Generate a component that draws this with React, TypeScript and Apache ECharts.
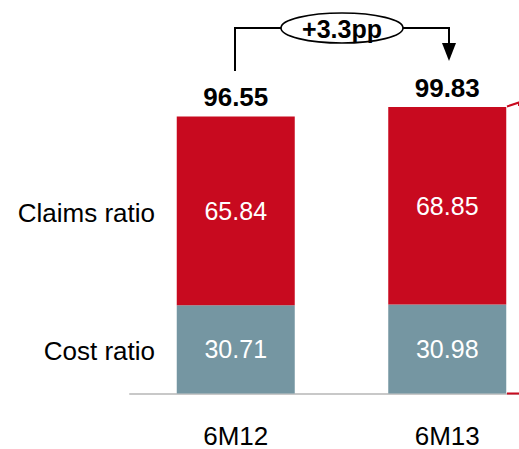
import React, { useEffect, useRef } from "react";
import * as echarts from "echarts";

const periods = ["6M12", "6M13"];
const costRatio = [30.71, 30.98];
const claimsRatio = [65.84, 68.85];
const seriesNames = ["Cost ratio", "Claims ratio"];
const changeLabel = "+3.3pp";

const RED = "#c80a1f";
const STEEL = "#7596a2";
const FONT = "Liberation Sans, Arial, Helvetica, sans-serif";

// The plot runs past the right edge of the 519px view, so the canvas is wider
const CANVAS_W = 553;

export default function App() {
  const ref = useRef<HTMLDivElement>(null);

  useEffect(() => {
    if (!ref.current) return;
    const chart = echarts.init(ref.current, null, { renderer: "svg" });
    const totals = costRatio.map((c, i) => +(c + claimsRatio[i]).toFixed(2));

    const valueLabel = {
      show: true,
      position: "inside",
      color: "#fff",
      fontSize: 25,
      fontFamily: FONT,
      formatter: (p: any) => p.value.toFixed(2),
    };

    const option: any = {
      animation: false,
      textStyle: { fontFamily: FONT },
      grid: { left: 130, right: 0, top: 106.5, height: 287 },
      xAxis: {
        type: "category",
        data: periods,
        axisLine: { show: true, lineStyle: { color: "#c8c8c8", width: 2 } },
        axisTick: { show: false },
        axisLabel: {
          color: "#000",
          fontSize: 26,
          lineHeight: 20,
          fontFamily: FONT,
          margin: 32,
        },
      },
      yAxis: { type: "value", min: 0, max: 100, show: false, splitLine: { show: false } },
      series: [
        {
          name: seriesNames[0],
          type: "bar",
          stack: "ratio",
          data: costRatio,
          barWidth: 118,
          itemStyle: { color: STEEL },
          label: valueLabel,
        },
        {
          name: seriesNames[1],
          type: "bar",
          stack: "ratio",
          data: claimsRatio,
          barWidth: 118,
          itemStyle: { color: RED },
          label: valueLabel,
        },
        {
          name: "Total",
          type: "bar",
          data: totals,
          barWidth: 118,
          barGap: "-100%",
          itemStyle: { color: "transparent" },
          silent: true,
          z: 1,
          label: {
            show: true,
            position: "top",
            distance: 6,
            color: "#000",
            fontSize: 26,
            fontWeight: "bold",
            fontFamily: FONT,
            formatter: (p: any) => p.value.toFixed(2),
          },
        },
      ],
    };
    chart.setOption(option);

    // Row captions sit left of the first bar, centred on each segment
    const costMid = chart.convertToPixel({ seriesIndex: 0 }, [0, costRatio[0] / 2]);
    const claimsMid = chart.convertToPixel({ seriesIndex: 0 }, [0, costRatio[0] + claimsRatio[0] / 2]);
    const base = chart.convertToPixel({ seriesIndex: 0 }, [0, 0]);

    const caption = (text: string, y: number) => ({
      type: "text",
      x: 155,
      y: y + 2,
      style: {
        text,
        fill: "#000",
        font: `26px ${FONT}`,
        align: "right",
        verticalAlign: "middle",
      },
    });

    const stroke = { stroke: "#000", lineWidth: 2, fill: "none" };

    chart.setOption({
      graphic: [
        caption(seriesNames[1], claimsMid[1]),
        caption(seriesNames[0], costMid[1]),
        // change bracket between the two totals
        {
          type: "polyline",
          shape: { points: [[235, 71], [235, 28], [281, 28]] },
          style: stroke,
        },
        {
          type: "polyline",
          shape: { points: [[403, 28], [449, 28], [449, 45]] },
          style: stroke,
        },
        {
          type: "polygon",
          shape: { points: [[442, 43], [456, 43], [449, 61]] },
          style: { fill: "#000" },
        },
        {
          type: "ellipse",
          shape: { cx: 342, cy: 28, rx: 61, ry: 15 },
          style: { fill: "#fff", stroke: "#000", lineWidth: 1.6 },
        },
        {
          type: "text",
          x: 342,
          y: 29,
          style: {
            text: changeLabel,
            fill: "#000",
            font: `bold 25px ${FONT}`,
            align: "center",
            verticalAlign: "middle",
          },
        },
        // red bracket edge at the right margin
        {
          type: "polyline",
          shape: { points: [[507, 106.5], [519, 102.5], [519, 106]] },
          style: { stroke: RED, lineWidth: 2, fill: "none" },
        },
        {
          type: "line",
          shape: { x1: 507, y1: base[1], x2: 553, y2: base[1] },
          style: { stroke: RED, lineWidth: 2 },
          z: 10,
        },
      ],
    });

    return () => chart.dispose();
  }, []);

  return (
    <div
      ref={ref}
      style={{ position: "fixed", left: 0, top: 0, width: CANVAS_W, height: 449, background: "#fff" }}
    />
  );
}
